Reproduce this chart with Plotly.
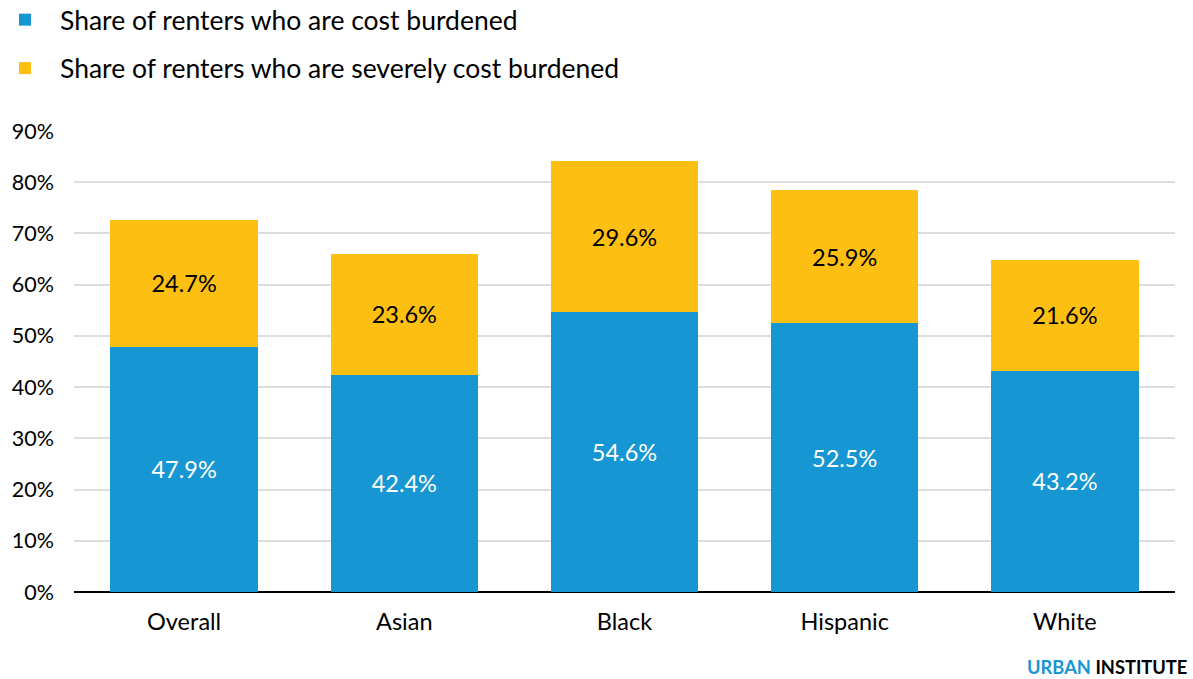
import plotly.graph_objects as go

categories = ["Overall", "Asian", "Black", "Hispanic", "White"]
cost_burdened = [47.9, 42.4, 54.6, 52.5, 43.2]
severely_burdened = [24.7, 23.6, 29.6, 25.9, 21.6]
y_ticks = [0, 10, 20, 30, 40, 50, 60, 70, 80, 90]
y_tick_labels = [f"{v}%" for v in y_ticks]

BLUE = "#1696d2"
YELLOW = "#fdbf11"
FONT = "Lato, 'Open Sans', sans-serif"

fig = go.Figure()
fig.add_trace(go.Bar(
    x=categories, y=cost_burdened, name="Share of renters who are cost burdened",
    marker=dict(color=BLUE, line=dict(width=0)),
    texttemplate="%{y:.1f}%", textposition="inside", insidetextanchor="middle",
    textfont=dict(color="white", size=23.5, family=FONT),
    legendgroup="a", width=0.67,
))
fig.add_trace(go.Bar(
    x=categories, y=severely_burdened, name="Share of renters who are severely cost burdened",
    marker=dict(color=YELLOW, line=dict(width=0)),
    texttemplate="%{y:.1f}%", textposition="inside", insidetextanchor="middle",
    textfont=dict(color="black", size=23.5, family=FONT),
    legendgroup="b", width=0.67,
))

fig.update_layout(
    barmode="stack",
    width=1193, height=679,
    margin=dict(l=74, r=18, t=131, b=87, autoexpand=False),
    paper_bgcolor="white", plot_bgcolor="white",
    font=dict(family=FONT, color="black"),
    uniformtext=dict(mode=False),
    showlegend=True,
    legend=dict(
        orientation="v", xref="paper", yref="paper",
        x=-0.0763, y=1.293, xanchor="left", yanchor="top",
        font=dict(size=26.5, family=FONT, color="black"),
        tracegroupgap=11, traceorder="grouped", itemwidth=60,
        bgcolor="rgba(0,0,0,0)",
    ),
    xaxis=dict(
        showgrid=False, showline=False, ticks="",
        tickfont=dict(size=23.5, family=FONT, color="black"),
        range=[-0.5, 4.5], ticklabelstandoff=13,
    ),
    yaxis=dict(
        range=[0, 90], tickvals=y_ticks, ticktext=y_tick_labels,
        showgrid=True, gridcolor="#dedddd", gridwidth=2,
        zeroline=True, zerolinecolor="black", zerolinewidth=2,
        showline=False, ticks="",
        tickfont=dict(size=21.5, family=FONT, color="black"),
        ticklabelstandoff=19,
    ),
    annotations=[dict(
        text=f"<b><span style='color:{BLUE}'>URBAN</span> INSTITUTE</b>",
        xref="paper", yref="paper", x=1.013, y=-0.163,
        xanchor="right", yanchor="middle", showarrow=False,
        font=dict(size=18.3, family=FONT, color="#000000"),
    )],
)

fig.write_html("out.html")
